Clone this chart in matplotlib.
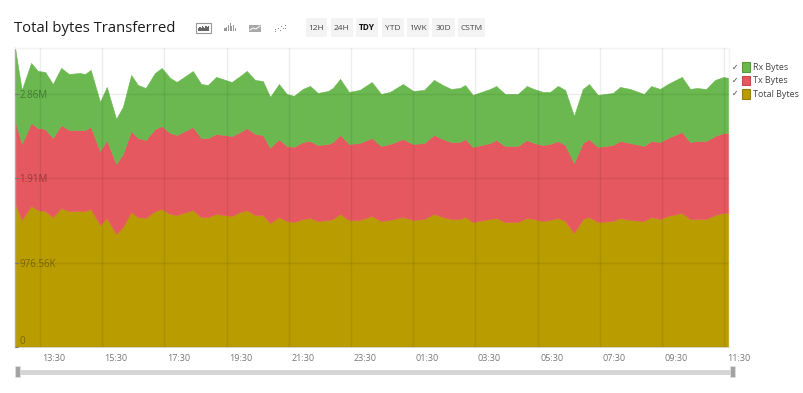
import matplotlib
matplotlib.use("Agg")
import matplotlib.pyplot as plt
from matplotlib.patches import Rectangle, Patch
from matplotlib.lines import Line2D
from matplotlib.transforms import ScaledTranslation

plt.rcParams['font.family'] = ['Open Sans', 'DejaVu Sans']

# minutes relative to 13:30
minutes = [-48,-35,-17,-4,10,25,41,56,77,87,98,116,129,147,160,176,189,204,222,235,251,264,295,311,324,340,370,386,399,415,430,444,461,476,490,507,521,536,556,565,579,596,617,640,658,675,700,720,741,760,777,793,810,820,835,868,880,897,922,939,953,970,984,999,1013,1030,1047,1059,1076,1105,1119,1138,1165,1179,1196,1211,1238,1254,1267,1285,1302,1318,1329]
# values in K
total_bytes = [1668,1471,1633,1586,1575,1505,1610,1575,1575,1575,1598,1413,1494,1309,1390,1563,1505,1494,1575,1598,1541,1529,1586,1505,1505,1541,1517,1563,1586,1529,1529,1436,1505,1459,1448,1482,1494,1459,1471,1482,1541,1471,1471,1517,1459,1471,1505,1471,1482,1541,1505,1482,1482,1505,1448,1482,1494,1448,1448,1494,1482,1459,1471,1494,1459,1320,1482,1505,1448,1459,1494,1471,1459,1505,1482,1517,1552,1482,1482,1482,1529,1552,1552]
tx_bytes = [961,880,961,950,950,915,961,938,938,938,950,857,903,811,845,938,915,903,950,961,938,926,961,915,915,926,926,926,950,938,926,869,903,869,869,892,892,880,880,892,915,880,892,903,869,880,903,880,880,915,903,892,892,903,869,880,903,880,880,903,880,880,880,892,880,811,880,903,869,880,892,892,869,880,892,903,938,892,903,903,915,926,926]
rx_bytes = [834,625,695,660,660,625,660,648,660,648,660,567,614,521,544,648,614,602,648,672,637,614,648,625,614,660,625,648,660,625,625,591,637,602,591,614,637,602,614,625,648,602,614,648,602,602,637,614,614,637,625,614,625,625,602,625,625,602,602,625,625,614,602,637,637,544,625,637,602,602,625,625,602,637,614,625,637,614,614,602,648,648,637]

series_names = ['Rx Bytes', 'Tx Bytes', 'Total Bytes']
series_colors = ['#6ab84f', '#e6585f', '#b99c00']
edge_colors = ['#559a3c', '#c9454d', '#97800a']

x_ticks = [0,120,240,360,480,600,720,840,960,1080,1200,1320]
x_labels = ['13:30','15:30','17:30','19:30','21:30','23:30','01:30','03:30','05:30','07:30','09:30','11:30']
y_ticks = [0, 976.56, 1953.12, 2929.68]
y_labels = ['0', '976.56K', '1.91M', '2.86M']
ranges = ['12H','24H','TDY','YTD','1WK','30D','CSTM']

W, H = 804, 393
fig = plt.figure(figsize=(W/100, H/100), dpi=100, facecolor='white')
ax = fig.add_axes([15/W, (H-347)/H, (729-15)/W, (347-48)/H])

polys = ax.stackplot(minutes, total_bytes, tx_bytes, rx_bytes,
                     colors=[series_colors[2], series_colors[1], series_colors[0]])
for p in polys:
    p.set_edgecolor('face')
    p.set_linewidth(0.4)
ax.set_xlim(-48, 1329)
ax.set_ylim(0, 3462)
ax.set_axisbelow(False)
ax.grid(True, color='black', alpha=0.07, linewidth=1)
ax.set_xticks(x_ticks, x_labels)
ax.set_yticks(y_ticks, y_labels)
ax.tick_params(axis='x', length=0, pad=5, labelsize=6.5, labelcolor='#777777')
ax.tick_params(axis='y', direction='in', length=2, pad=-3, color='#777777', labelsize=7,
               labelcolor=(0, 0, 0, 0.33))
shift = ScaledTranslation(14/100, 0, fig.dpi_scale_trans)
for t in ax.get_xticklabels():
    t.set_transform(t.get_transform() + shift)
for t, lab in zip(ax.get_yticklabels(), y_labels):
    t.set_ha('left')
    if lab == '0':
        t.set_va('bottom')
for s in ['top', 'right']:
    ax.spines[s].set_color('#f4f4f4')
    ax.spines[s].set_linewidth(1)
ax.spines['bottom'].set_color('#dddddd')
ax.spines['bottom'].set_linewidth(0.6)
ax.spines['left'].set_color('#aaaaaa')
ax.spines['left'].set_linewidth(1)

def px_rect(x0, y0, x1, y1, **kw):
    fig.add_artist(Rectangle((x0/W, 1-y1/H), (x1-x0)/W, (y1-y0)/H,
                             transform=fig.transFigure, **kw))

def px_line(xs, ys, **kw):
    fig.add_artist(Line2D([x/W for x in xs], [1-y/H for y in ys],
                          transform=fig.transFigure, **kw))

fig.text(14/W, 1-28/H, 'Total bytes Transferred', fontsize=10.7, color='#1c1c1c', va='center', ha='left')

# chart-type icons
px_rect(196, 23, 211, 33, facecolor='white', edgecolor='#999999', linewidth=0.8)
for i, h in enumerate([3, 4, 3, 5, 4, 3, 5, 4, 5]):
    px_rect(198+i*1.25, 31-h, 199.3+i*1.25, 31, facecolor='#666666', edgecolor='none')
for i, h in enumerate([3, 4, 6, 8, 5, 6, 3]):
    px_rect(224.5+i*1.7, 31-h, 225.5+i*1.7, 31, facecolor='#999999', edgecolor='none')
px_rect(249, 25, 261, 32, facecolor='#a8a8a8', edgecolor='none')
px_line([250, 253, 256, 260], [30, 28, 29, 26], color='white', linewidth=0.7)
for dx, dy in [(275, 31), (275, 29), (278, 28), (280, 30), (281, 26), (283, 28), (285, 25), (285, 28)]:
    px_rect(dx, dy, dx+1, dy+1, facecolor='#888888', edgecolor='none')

# range buttons
btn_x = [(306, 327), (331, 353), (356, 378), (382, 404), (407, 429), (432, 455), (458, 485)]
for (a, b), lab in zip(btn_x, ranges):
    px_rect(a, 18, b, 37, facecolor='#f3f3f3', edgecolor='none')
    fig.text((a+b)/2/W, 1-28/H, lab, fontsize=6, ha='center', va='center',
             color='#111111' if lab == 'TDY' else '#444444',
             fontweight='bold' if lab == 'TDY' else 'normal')

# legend
handles = [Patch(facecolor=c, edgecolor=e, linewidth=0.8) for c, e in zip(series_colors, edge_colors)]
leg = ax.legend(handles, series_names, loc='upper left', bbox_to_anchor=(742/W, 1-62/H),
                bbox_transform=fig.transFigure, frameon=False, fontsize=6.4, handlelength=0.95,
                handleheight=1.3, handletextpad=0.3, labelspacing=0.42, borderpad=0, borderaxespad=0,
                labelcolor='#444444')
for y in [67, 80.5, 93]:
    fig.text(735.5/W, 1-y/H, '\u2713', fontsize=5.5, ha='center', va='center', color='#444444',
             family='DejaVu Sans')

# range slider
px_rect(18, 370, 731, 375, facecolor='#d6d6d6', edgecolor='none')
px_rect(15, 366, 20, 377, facecolor='#a3a3a3', edgecolor='#e2e2e2', linewidth=0.5)
px_rect(730, 366, 735, 377, facecolor='#a3a3a3', edgecolor='#e2e2e2', linewidth=0.5)

fig.savefig('out.png', dpi=100)
